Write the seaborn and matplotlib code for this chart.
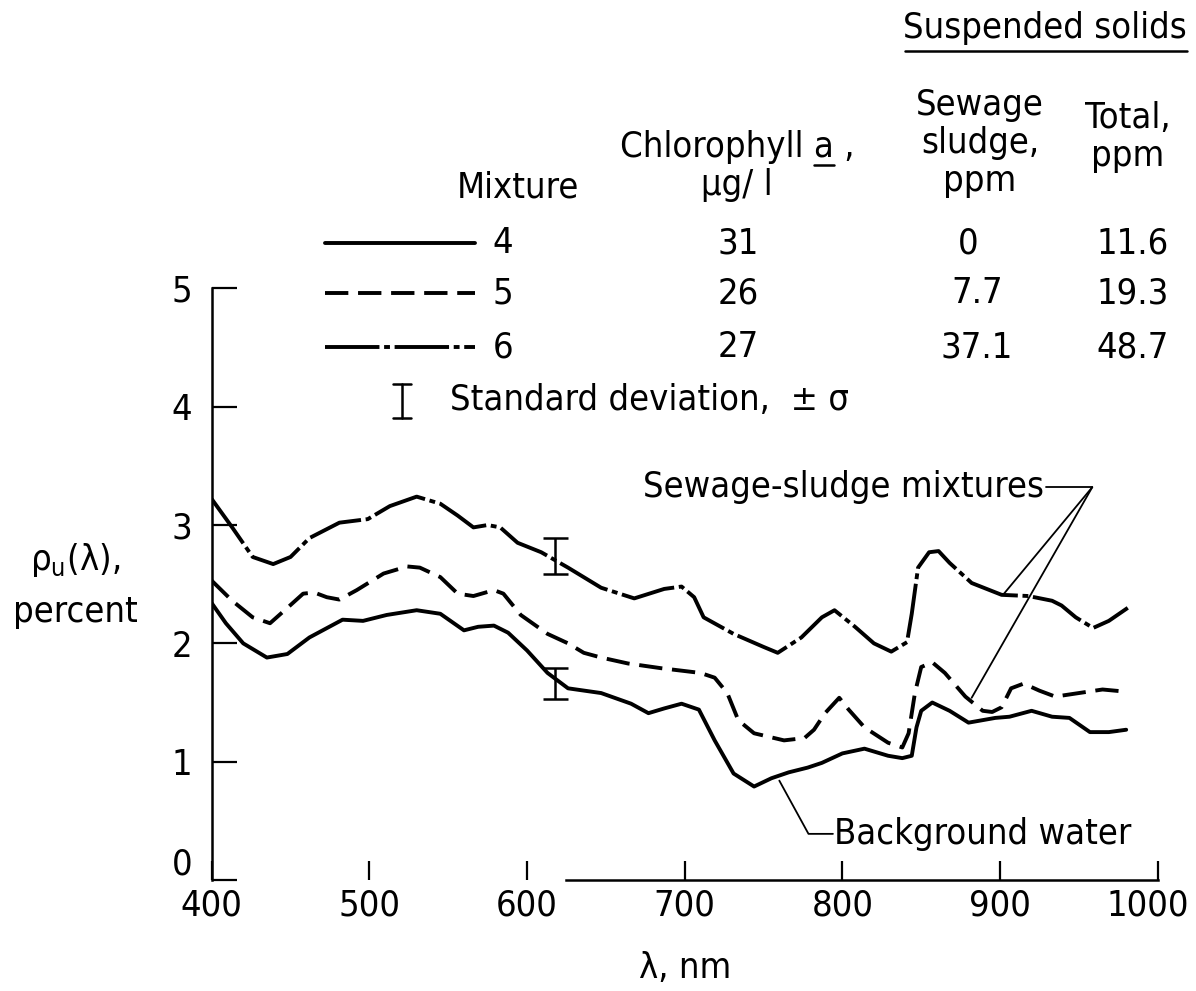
import numpy as np
import pandas as pd
import matplotlib
matplotlib.use("Agg")
import matplotlib.pyplot as plt
import matplotlib.transforms as mtransforms
from matplotlib import font_manager
from matplotlib.lines import Line2D
import seaborn as sns

wl_4 = [400, 409, 420, 435, 448, 462, 483, 496, 511, 530, 545, 560, 569, 579, 588, 600, 613, 626,
        647, 666, 677, 687, 698, 709, 719, 731, 744, 755, 766, 778, 787, 800, 814, 829, 838, 844,
        847, 850, 857, 868, 880, 897, 906, 920, 933, 944, 957, 969, 980]
rho_4 = [2.34, 2.17, 2.00, 1.88, 1.91, 2.05, 2.20, 2.19, 2.24, 2.28, 2.25, 2.11, 2.14, 2.15, 2.09,
         1.94, 1.75, 1.62, 1.58, 1.49, 1.41, 1.45, 1.49, 1.44, 1.18, 0.90, 0.79, 0.86, 0.91, 0.95,
         0.99, 1.07, 1.11, 1.05, 1.03, 1.05, 1.29, 1.43, 1.50, 1.43, 1.33, 1.37, 1.38, 1.43, 1.38,
         1.37, 1.25, 1.25, 1.27]

wl_5 = [400, 413, 426, 437, 448, 458, 465, 473, 481, 492, 509, 524, 532, 545, 556, 566, 579, 585,
        596, 613, 626, 636, 647, 664, 685, 710, 719, 727, 734, 744, 763, 776, 782, 789, 798, 804,
        814, 829, 838, 842, 846, 850, 857, 865, 878, 889, 895, 901, 907, 915, 925, 935, 950, 965, 981]
rho_5 = [2.53, 2.36, 2.22, 2.17, 2.30, 2.42, 2.43, 2.39, 2.37, 2.45, 2.59, 2.65, 2.64, 2.56, 2.42,
         2.40, 2.45, 2.42, 2.24, 2.08, 2.00, 1.92, 1.88, 1.83, 1.79, 1.75, 1.71, 1.58, 1.35, 1.24,
         1.18, 1.20, 1.27, 1.41, 1.54, 1.44, 1.29, 1.16, 1.12, 1.24, 1.58, 1.80, 1.84, 1.75, 1.55,
         1.43, 1.42, 1.46, 1.62, 1.66, 1.60, 1.55, 1.58, 1.61, 1.59]

wl_6 = [400, 413, 426, 439, 450, 462, 481, 499, 513, 530, 545, 556, 566, 575, 583, 594, 609, 626,
        647, 668, 687, 698, 706, 712, 731, 750, 759, 774, 787, 795, 808, 820, 831, 841, 844, 848,
        855, 861, 868, 882, 901, 918, 933, 939, 948, 959, 969, 981]
rho_6 = [3.22, 2.98, 2.73, 2.67, 2.73, 2.89, 3.02, 3.05, 3.16, 3.24, 3.18, 3.08, 2.98, 3.00, 2.98,
         2.85, 2.77, 2.64, 2.47, 2.38, 2.46, 2.48, 2.39, 2.22, 2.08, 1.97, 1.92, 2.05, 2.22, 2.28,
         2.14, 2.00, 1.93, 2.01, 2.25, 2.64, 2.77, 2.78, 2.68, 2.51, 2.41, 2.40, 2.36, 2.32, 2.22,
         2.13, 2.19, 2.30]

# standard deviation bars (mixture 6 and background)
sd_wl = [618, 618]
sd_mean = [2.74, 1.66]
sd_err = [0.15, 0.13]

# table above the plot
mixtures = ["4", "5", "6"]
chloro = ["31", "26", "27"]
sludge = ["0", "7.7", "37.1"]
total = ["11.6", "19.3", "48.7"]

df = pd.concat([
    pd.DataFrame({"wl": wl_4, "rho": rho_4, "Mixture": "4"}),
    pd.DataFrame({"wl": wl_5, "rho": rho_5, "Mixture": "5"}),
    pd.DataFrame({"wl": wl_6, "rho": rho_6, "Mixture": "6"}),
])

sns.set_theme(style="white")

# the original lettering is very narrow, use a condensed face when there is one
fonts = font_manager.fontManager.ttflist
names = {f.name for f in fonts}
if "Liberation Sans Narrow" in names:
    plt.rcParams['font.family'] = ['Liberation Sans Narrow', 'DejaVu Sans']
    FS = 29
elif any(f.name == "DejaVu Sans" and "ondensed" in str(f.stretch) for f in fonts):
    plt.rcParams['font.family'] = ['DejaVu Sans']
    plt.rcParams['font.stretch'] = 'condensed'
    FS = 26
else:
    plt.rcParams['font.family'] = ['DejaVu Sans']
    FS = 24
plt.rcParams['text.color'] = 'black'
plt.rcParams['xtick.color'] = 'black'
plt.rcParams['ytick.color'] = 'black'

dash_map = {"4": "", "5": (6, 2.5), "6": (14, 1.2, 1.5, 1.2)}

fig = plt.figure(figsize=(11.96, 9.91), dpi=100)
ax = fig.add_axes([0.177, 0.112, 0.791, 0.597])

sns.lineplot(data=df, x="wl", y="rho", style="Mixture", dashes=dash_map, color="black",
             linewidth=2.8, legend=False, ax=ax)
ax.errorbar(sd_wl, sd_mean, yerr=sd_err, fmt="none", ecolor="black", elinewidth=1.8,
            capsize=9, capthick=1.8)

ax.set_xlim(400, 1000)
ax.set_ylim(0, 5)
ax.set_xticks([400, 500, 600, 700, 800, 900, 1000])
ax.set_yticks([0, 1, 2, 3, 4, 5])
ax.tick_params(axis="y", direction="in", length=18, width=1.6, labelsize=FS, pad=14, left=True)
ax.tick_params(axis="x", direction="in", length=14, width=1.6, labelsize=FS, pad=6, bottom=True)
ax.set_xlabel("")
ax.set_ylabel("")
for s in ["top", "right"]:
    ax.spines[s].set_visible(False)
for s in ["left", "bottom"]:
    ax.spines[s].set_linewidth(1.8)
    ax.spines[s].set_color("black")
ax.spines["bottom"].set_bounds(625, 1000)

# the "0" sits a little above the axis in the original, "1000" hugs the right edge
fig.canvas.draw()
ylab0 = ax.get_yticklabels()[0]
ylab0.set_transform(ylab0.get_transform() + mtransforms.ScaledTranslation(0, 14 / 72, fig.dpi_scale_trans))
xlab_end = ax.get_xticklabels()[-1]
xlab_end.set_transform(xlab_end.get_transform() + mtransforms.ScaledTranslation(-7 / 72, 0, fig.dpi_scale_trans))

# axis titles
fig.text(75 / 1196, 1 - 585 / 991, "$\\mathregular{\\rho_u}$(λ),\npercent", ha="center",
         va="center", fontsize=FS, linespacing=1.6)
fig.text(685 / 1196, 1 - 968 / 991, "λ, nm", ha="center", va="center", fontsize=FS)

# annotations
ax.text(928, 3.32, "Sewage-sludge mixtures", ha="right", va="center", fontsize=FS)
ax.plot([929, 958.5], [3.32, 3.32], color="black", lw=1.3)
ax.plot([958.5, 902.5], [3.32, 2.42], color="black", lw=1.3)
ax.plot([958.5, 882], [3.32, 1.54], color="black", lw=1.3)

ax.plot([760, 778.5, 794], [0.84, 0.39, 0.39], color="black", lw=1.3)
ax.text(795, 0.39, "Background water", ha="left", va="center", fontsize=FS)

# header table
def ft(px, py, s, **kw):
    kw.setdefault("ha", "center")
    kw.setdefault("va", "center")
    return fig.text(px / 1196, 1 - py / 991, s, fontsize=FS, **kw)

ft(1045, 28, "Suspended solids")
fig.add_artist(Line2D([905 / 1196, 1187 / 1196], [1 - 51 / 991, 1 - 51 / 991], color="black", lw=1.8))
ft(980, 143, "Sewage\nsludge,\nppm", linespacing=1.15)
ft(1128, 137, "Total,\nppm", linespacing=1.15)
chl = ft(737, 166, "Chlorophyll a ,\nμg/ l", linespacing=1.15)
ft(518, 187, "Mixture")

# underline the "a" of chlorophyll a
fig.canvas.draw()
r = fig.canvas.get_renderer()
bb = chl.get_window_extent(r)
w_full = r.get_text_width_height_descent("Chlorophyll a ,", chl.get_fontproperties(), False)[0]
w_pre = r.get_text_width_height_descent("Chlorophyll ", chl.get_fontproperties(), False)[0]
w_a = r.get_text_width_height_descent("a", chl.get_fontproperties(), False)[0]
x0 = (bb.x0 + bb.x1) / 2 - w_full / 2 + w_pre
fig.add_artist(Line2D([x0 / fig.bbox.width, (x0 + w_a) / fig.bbox.width],
                      [1 - 165 / 991, 1 - 165 / 991], color="black", lw=1.8))

row_y = [243, 293, 347]
for i, m in enumerate(mixtures):
    y = 1 - row_y[i] / 991
    fig.add_artist(Line2D([325 / 1196, 475 / 1196], [y, y], color="black", lw=2.8,
                          dashes=dash_map[m] if dash_map[m] else (None, None)))
    ft(503, row_y[i], m)
    ft(738, row_y[i], chloro[i])
    ft(1133, row_y[i], total[i])
ft(968, 243, sludge[0])
ft(977, 293, sludge[1])
ft(977, 347, sludge[2])

# standard deviation key
fig.add_artist(Line2D([402 / 1196, 402 / 1196], [1 - 384 / 991, 1 - 418 / 991], color="black", lw=1.8))
fig.add_artist(Line2D([393 / 1196, 411 / 1196], [1 - 384 / 991, 1 - 384 / 991], color="black", lw=1.8))
fig.add_artist(Line2D([393 / 1196, 411 / 1196], [1 - 418 / 991, 1 - 418 / 991], color="black", lw=1.8))
ft(450, 400, "Standard deviation,  ± σ", ha="left")

fig.savefig("out.png", dpi=100)
